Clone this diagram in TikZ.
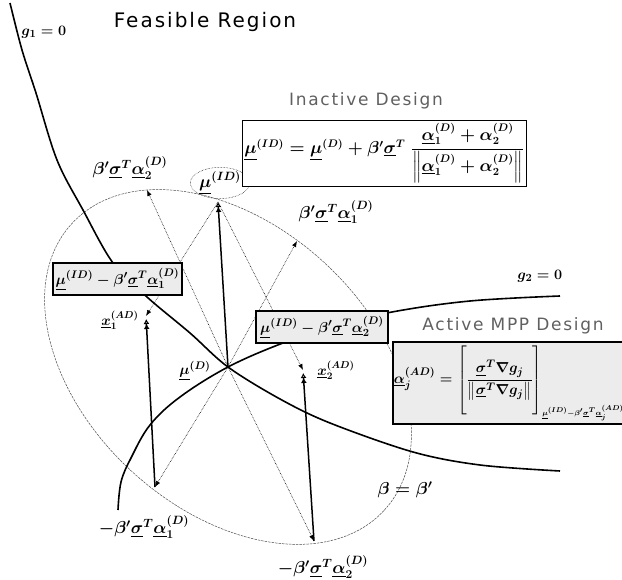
\documentclass[tikz,border=0pt]{standalone}
\usepackage{amsmath}
\usepackage{fontspec}
\usepackage{xcolor}
\usepackage{tikz}
\usetikzlibrary{arrows.meta, positioning, shapes.geometric}
\newfontfamily\headfont[LetterSpace=10]{DejaVu Sans}
\newcommand{\vu}[1]{\underline{#1}}

\begin{document}
\begin{tikzpicture}[x=1pt, y=-1pt,
        curve/.style={line width=1.6pt},
        contour/.style={line width=0.5pt, dash pattern=on 2.5pt off 1pt, gray!60!black},
        vec/.style={densely dotted, line width=0.6pt, -{Latex[length=6pt,width=4.5pt]}},
        shiftvec/.style={line width=1.5pt, -{Latex[open,length=5pt,width=6pt]Latex[open,length=5pt,width=6pt]}},
        lbl/.style={inner sep=1pt, font=\fontsize{17}{20}\selectfont\boldmath},
        mbox/.style={draw, line width=1.4pt, fill=gray!15, inner sep=2pt, font=\fontsize{15}{18}\selectfont\boldmath},
        title/.style={font=\headfont\fontsize{20}{24}\selectfont},
        head/.style={font=\headfont\fontsize{17}{20}\selectfont, text=gray!75!black}
    ]
        \useasboundingbox (0,0) rectangle (622,580);
        \coordinate (mD) at (228,367);
        \coordinate (mID) at (218,202);
        \coordinate (pa1) at (297,241);
        \coordinate (pa2) at (147,190);
        \coordinate (na1) at (155,487);
        \coordinate (na2) at (314,541);
        \coordinate (xa1) at (146,316);
        \coordinate (xa2) at (303,370);

        \draw[contour, rotate around={-42.5:(mD)}] (mD) ellipse [x radius=212pt, y radius=142pt];
        \draw[curve] plot[smooth, tension=0.55] coordinates {(10,3) (22,50) (36,93) (57,160) (83,210) (113,263) (147,297) (190,333) (228,367) (280,399) (330,423) (413,452) (480,465) (560,471)};
        \draw[curve] plot[smooth, tension=0.6] coordinates {(118,510) (121,482) (131,458) (150,425) (180,397) (228,367) (283,343) (335,326) (392,312) (470,301) (560,296)};

        \node[lbl, ellipse, draw, densely dotted, line width=0.5pt, minimum width=54pt, minimum height=30pt, inner sep=0pt] (mIDl) at (220,183) {$\vu{\mu}^{(ID)}$};
        \draw[vec] (mD) -- (pa1);
        \draw[vec] (mD) -- (pa2);
        \draw[vec] (mD) -- (na1);
        \draw[vec] (mD) -- (na2);
        \draw[vec] (mID) -- (xa1);
        \draw[vec] (mID) -- (xa2);
        \draw[shiftvec] (mD) -- (mID);
        \draw[shiftvec, shorten >=3pt] (na1) -- (xa1);
        \draw[shiftvec, shorten >=3pt] (na2) -- (xa2);

        \node[mbox, minimum width=129pt, minimum height=32pt] (boxa) at (117.5,279) {$\vu{\mu}^{(ID)} - \beta'\vu{\sigma}^T\vu{\alpha}_1^{(D)}$};
        \node[mbox, minimum width=132pt, minimum height=32pt] (boxb) at (322,327) {$\vu{\mu}^{(ID)} - \beta'\vu{\sigma}^T\vu{\alpha}_2^{(D)}$};
        \node[draw, fill=white, line width=0.6pt, minimum width=255pt, minimum height=66pt, inner sep=2pt, font=\fontsize{16}{19}\selectfont\boldmath] (inact) at (384.5,153) {$\vu{\mu}^{(ID)} = \vu{\mu}^{(D)} + \beta'\vu{\sigma}^T\;\dfrac{\vu{\alpha}_1^{(D)}+\alpha_2^{(D)}\rule[-5pt]{0pt}{5pt}}{\left\|\vu{\alpha}_1^{(D)}+\alpha_2^{(D)}\right\|}$};
        \node[mbox, minimum width=224pt, minimum height=82pt, inner sep=1pt, font=\fontsize{15}{18}\selectfont\boldmath] (act) at (509,383) {$\vu{\alpha}_j^{(AD)} = \left[\rule[-30pt]{0pt}{64pt}\dfrac{\vu{\sigma}^T\nabla g_j}{\left\|\vu{\sigma}^T\nabla g_j\right\|}\right]_{\scriptscriptstyle\vu{\mu}^{(ID)}-\beta'\vu{\sigma}^T\vu{\alpha}_j^{(AD)}}$};

        \node[title] (feas) at (205,22) {Feasible Region};
        \node[head] (inacth) at (366,101) {Inactive Design};
        \node[head] (acth) at (513,326) {Active MPP Design};
        \node[lbl, font=\fontsize{15}{18}\selectfont\boldmath] (g1l) at (44,32) {$g_1 = 0$};
        \node[lbl, font=\fontsize{15}{18}\selectfont\boldmath] (g2l) at (540,276) {$g_2 = 0$};
        \node[lbl] (la2) at (130,168) {$\beta'\vu{\sigma}^T\vu{\alpha}_2^{(D)}$};
        \node[lbl] (la1) at (336,212) {$\beta'\vu{\sigma}^T\vu{\alpha}_1^{(D)}$};
        \node[lbl, font=\fontsize{14}{17}\selectfont\boldmath] (lx1) at (120,320) {$\vu{x}_1^{(AD)}$};
        \node[lbl, font=\fontsize{14}{17}\selectfont\boldmath] (lx2) at (336,370) {$\vu{x}_2^{(AD)}$};
        \node[lbl, font=\fontsize{15}{18}\selectfont\boldmath] (lmD) at (195,371) {$\vu{\mu}^{(D)}$};
        \node[lbl] (lna1) at (144,527) {$-\beta'\vu{\sigma}^T\vu{\alpha}_1^{(D)}$};
        \node[lbl] (lna2) at (323,567) {$-\beta'\vu{\sigma}^T\vu{\alpha}_2^{(D)}$};
        \node[lbl] (lbeta) at (405,490) {$\beta = \beta'$};
    \end{tikzpicture}
\end{document}
